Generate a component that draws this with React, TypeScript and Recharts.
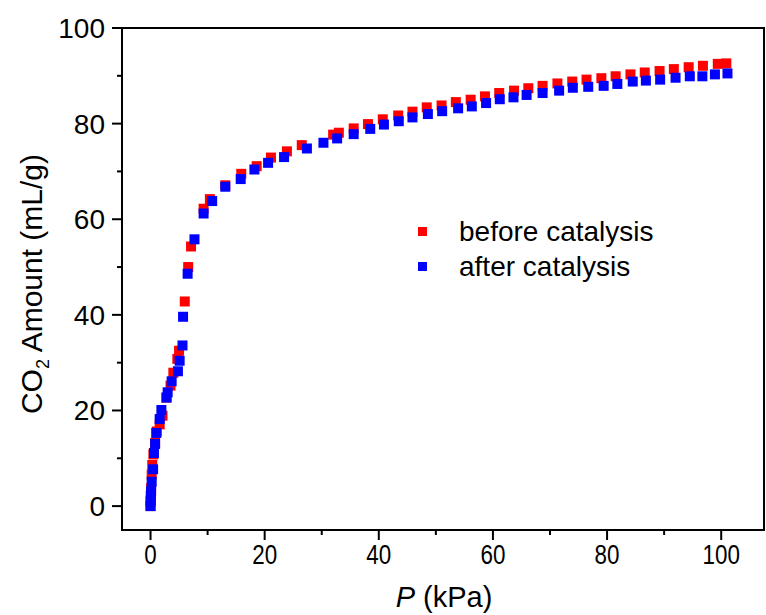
import { ScatterChart, Scatter, XAxis, YAxis, ReferenceArea } from "recharts";

// P (kPa) and CO2 amount (mL/g)
const beforeP = [
  0, 0.03, 0.06, 0.1, 0.2, 0.3, 0.5, 0.8, 1.1, 1.6, 2.1, 2.8, 3.5, 4.0, 4.7, 5.0, 6.0, 6.6, 7.1, 9.3,
  10.4, 13.1, 15.9, 18.6, 21.1, 23.9, 26.5, 32.0, 33.0, 35.6, 38.1, 40.7, 43.4, 45.9, 48.4, 51.0, 53.5,
  56.1, 58.6, 61.1, 63.7, 66.2, 68.7, 71.3, 73.9, 76.4, 79.0, 81.5, 84.1, 86.6, 89.2, 91.7, 94.3, 96.8,
  99.4, 100.9,
];
const beforeV = [
  0, 1.2, 2.4, 3.8, 6.6, 8.6, 10.8, 13.2, 15.6, 17.1, 18.9, 22.7, 25.2, 27.9, 30.8, 32.5, 42.8, 50.0,
  54.3, 62.2, 64.2, 67.1, 69.5, 71.1, 72.9, 74.2, 75.5, 77.7, 78.1, 79.0, 79.9, 80.9, 81.7, 82.5, 83.4,
  83.8, 84.5, 85.0, 85.7, 86.4, 86.9, 87.4, 87.9, 88.4, 88.8, 89.2, 89.5, 89.9, 90.3, 90.7, 91.0, 91.4,
  91.8, 92.1, 92.5, 92.6,
];
const afterP = [
  0, 0.02, 0.05, 0.1, 0.2, 0.45, 0.6, 0.8, 1.0, 1.6, 1.9, 2.8, 3.0, 3.7, 4.8, 5.1, 5.6, 5.7, 6.5, 7.7,
  9.3, 10.8, 13.1, 15.8, 18.2, 20.6, 23.4, 27.4, 30.3, 32.7, 35.6, 38.5, 40.9, 43.5, 45.9, 48.6, 51.1,
  53.9, 56.3, 58.8, 61.2, 63.6, 65.9, 68.7, 71.6, 74.0, 76.7, 79.4, 81.8, 84.5, 86.8, 89.3, 92.0, 94.5,
  96.7, 98.9, 101.1,
];
const afterV = [
  0, 1.0, 2.1, 3.1, 5.1, 7.7, 11.1, 13.0, 15.3, 18.2, 20.1, 22.7, 23.8, 26.1, 28.2, 30.4, 33.6, 39.6,
  48.6, 55.8, 61.2, 63.8, 66.8, 68.4, 70.4, 71.8, 73.0, 74.8, 76.0, 76.9, 77.8, 78.9, 79.8, 80.5, 81.3,
  82.0, 82.6, 83.2, 83.6, 84.3, 85.1, 85.5, 86.0, 86.4, 86.9, 87.5, 87.7, 87.9, 88.3, 88.8, 89.0, 89.2,
  89.6, 89.9, 89.9, 90.3, 90.5,
];
const xTicks = [0, 10, 20, 30, 40, 50, 60, 70, 80, 90, 100];
const yTicks = [0, 10, 20, 30, 40, 50, 60, 70, 80, 90, 100];

const before = beforeP.map((p, i) => ({ p, v: beforeV[i] }));
const after = afterP.map((p, i) => ({ p, v: afterV[i] }));

const FONT = "'Liberation Sans', Arial, sans-serif";

const square = (color: string) => (props: any) => (
  <rect x={props.cx - 5} y={props.cy - 5} width={10} height={10} fill={color} />
);

const XTick = (props: any) => {
  const { x, y, payload } = props;
  const major = payload.value % 20 === 0;
  return (
    <g>
      <line x1={x} x2={x} y1={y} y2={y + (major ? 10 : 5)} stroke="#000" strokeWidth={2} />
      {major && (
        <text
          transform={`translate(${x},${y + 34}) scale(0.8,1)`}
          textAnchor="middle"
          fontSize={28}
          fontFamily={FONT}
          fill="#000"
        >
          {payload.value}
        </text>
      )}
    </g>
  );
};

const YTick = (props: any) => {
  const { x, y, payload } = props;
  const major = payload.value % 20 === 0;
  return (
    <g>
      <line x1={x} x2={x - (major ? 10 : 5)} y1={y} y2={y} stroke="#000" strokeWidth={2} />
      {major && (
        <text x={x - 17} y={y + 10} textAnchor="end" fontSize={28} fontFamily={FONT} fill="#000">
          {payload.value}
        </text>
      )}
    </g>
  );
};

const legendItems = [
  { name: "before catalysis", color: "#ff0000" },
  { name: "after catalysis", color: "#0000ff" },
];

export default function App() {
  return (
    <div style={{ position: "relative", width: 766, height: 615, background: "#fff" }}>
      <style>{`body{margin:0}`}</style>
      <ScatterChart width={766} height={615} margin={{ top: 28, right: 2, left: 0, bottom: 0 }}>
        <XAxis
          type="number"
          dataKey="p"
          domain={[-5, 107.5]}
          ticks={xTicks}
          interval={0}
          height={85}
          tickSize={0}
          tickMargin={0}
          tickLine={false}
          axisLine={false}
          tick={<XTick />}
          label={{
            content: () => (
              <text x={444} y={607} textAnchor="middle" fontSize={29} fontFamily={FONT} fill="#000">
                <tspan fontStyle="italic">P</tspan> (kPa)
              </text>
            ),
          }}
        />
        <YAxis
          type="number"
          dataKey="v"
          domain={[-5, 100]}
          ticks={yTicks}
          interval={0}
          width={122}
          tickSize={0}
          tickMargin={0}
          tickLine={false}
          axisLine={false}
          tick={<YTick />}
          label={{
            content: () => (
              <text
                transform="translate(42,284) rotate(-90)"
                textAnchor="middle"
                fontSize={30}
                fontFamily={FONT}
                fill="#000"
              >
                <tspan>CO</tspan>
                <tspan fontSize={18} dy={7}>2</tspan>
                <tspan dy={-7}> Amount (mL/g)</tspan>
              </text>
            ),
          }}
        />
        <ReferenceArea x1={-5} x2={107.5} y1={-5} y2={100} fill="none" stroke="#000" strokeWidth={2} />
        <Scatter data={before} shape={square("#ff0000")} isAnimationActive={false} />
        <Scatter data={after} shape={square("#0000ff")} isAnimationActive={false} />
      </ScatterChart>
      <div
        style={{
          position: "absolute",
          left: 418,
          top: 214,
          fontFamily: FONT,
          fontSize: 28,
          color: "#000",
          lineHeight: "35px",
        }}
      >
        {legendItems.map((it) => (
          <div key={it.name} style={{ display: "flex", alignItems: "center", height: 35 }}>
            <span style={{ width: 9, height: 9, background: it.color, marginRight: 32 }} />
            <span>{it.name}</span>
          </div>
        ))}
      </div>
    </div>
  );
}
